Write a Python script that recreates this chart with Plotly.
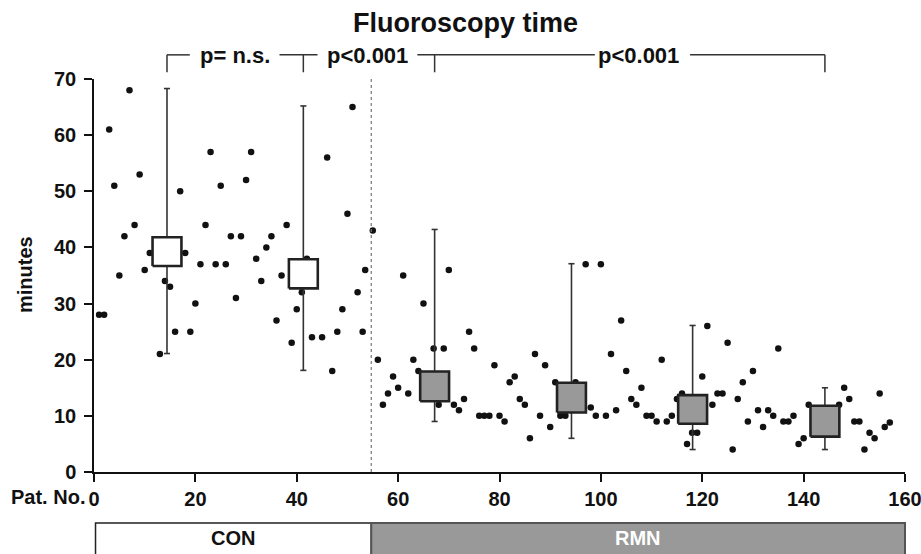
import plotly.graph_objects as go

# ---------------- data ----------------
con_x = [1, 2, 3, 4, 5, 6, 7, 8, 9, 10, 11, 13, 14, 15, 16, 17, 18, 19, 20, 21,
         22, 23, 24, 25, 26, 27, 28, 29, 30, 31, 32, 33, 34, 35, 36, 37, 38, 39,
         40, 41, 42, 43, 45, 46, 47, 48, 49, 50, 51, 52, 53, 53.5]
con_y = [28, 28, 61, 51, 35, 42, 68, 44, 53, 36, 39, 21, 34, 33, 25, 50, 39, 25, 30, 37,
         44, 57, 37, 51, 37, 42, 31, 42, 52, 57, 38, 34, 40, 42, 27, 35, 44, 23,
         29, 32, 38, 24, 24, 56, 18, 25, 29, 46, 65, 32, 25, 36]

rmn_x = [55, 56, 57, 58, 59, 60, 61, 62, 63, 64, 65, 67, 68, 69, 70, 71, 72, 73, 74, 75,
         76, 77, 78, 79, 80, 81, 82, 83, 84, 85, 86, 87, 88, 89, 90, 91, 92, 93, 95, 97,
         98, 99, 100, 101, 102, 103, 104, 105, 106, 107, 108, 109, 110, 111, 112, 113,
         114, 115, 116, 117, 118, 119, 120, 121, 122, 123, 124, 125, 126, 127, 128, 129,
         130, 131, 132, 133, 134, 135, 136, 137, 138, 139, 140, 141, 147, 148, 149, 150,
         151, 152, 153, 154, 155, 156, 157]
rmn_y = [43, 20, 12, 14, 17, 15, 35, 14, 20, 18, 30, 22, 12, 22, 36, 12, 11, 13, 25, 22,
         10, 10, 10, 19, 10, 9, 16, 17, 13, 12, 6, 21, 10, 19, 8, 16, 10, 10, 16, 37,
         11.5, 10, 37, 10, 21, 11, 27, 18, 13, 12, 15, 10, 10, 9, 20, 9,
         10, 13, 14, 5, 7, 7, 17, 26, 12, 14, 14, 23, 4, 13, 16, 9,
         18, 11, 8, 11, 10, 22, 9, 9, 10, 5, 6, 12, 12, 15, 13, 9,
         9, 4, 7, 6, 14, 8, 8.8]

box_x = [14.4, 41.3, 67.2, 94.2, 118.1, 144.2]
box_top = [41.8, 37.9, 17.9, 15.9, 13.7, 11.8]
box_bottom = [36.7, 32.7, 12.6, 10.6, 8.6, 6.3]
whisker_max = [68.3, 65.2, 43.2, 37.1, 26.1, 15.0]
whisker_min = [21.1, 18.1, 9.0, 6.0, 4.0, 4.0]
box_group = ["CON", "CON", "RMN", "RMN", "RMN", "RMN"]

x_ticks = [0, 20, 40, 60, 80, 100, 120, 140, 160]
y_ticks = [0, 10, 20, 30, 40, 50, 60, 70]
group_split = 54.7
p_labels = ["p= n.s.", "p<0.001", "p<0.001"]

# ---------------- styling ----------------
FONT = "Liberation Sans, Arial, Helvetica, sans-serif"
BOX_W = 5.7
CAP = 0.6
fills = {"CON": "white", "RMN": "#999999"}

fig = go.Figure()

# patient dots
fig.add_trace(go.Scatter(x=con_x + rmn_x, y=con_y + rmn_y, mode="markers",
                         marker=dict(color="#111111", size=6.5), hoverinfo="x+y"))

# whiskers
wx, wy = [], []
for x, lo, hi in zip(box_x, whisker_min, whisker_max):
    wx += [x, x, None, x - CAP, x + CAP, None, x - CAP, x + CAP, None]
    wy += [lo, hi, None, hi, hi, None, lo, lo, None]
fig.add_trace(go.Scatter(x=wx, y=wy, mode="lines",
                         line=dict(color="#333333", width=1.6), hoverinfo="skip"))

# boxes
for grp in ["CON", "RMN"]:
    bx, by = [], []
    for x, t, b, g in zip(box_x, box_top, box_bottom, box_group):
        if g != grp:
            continue
        l, r = x - BOX_W / 2, x + BOX_W / 2
        bx += [l, r, r, l, l, None]
        by += [b, b, t, t, b, None]
    fig.add_trace(go.Scatter(x=bx, y=by, mode="lines", fill="toself",
                             fillcolor=fills[grp],
                             line=dict(color="#222222", width=2.6), hoverinfo="skip"))

shapes = []
# dotted divider
shapes.append(dict(type="line", xref="x", yref="y", x0=group_split, x1=group_split,
                   y0=0, y1=70, line=dict(color="#777777", width=1.2, dash="dot")))

# significance brackets (paper coords derived from data positions)
def px(v):
    return v / 160.0

def py(v):
    return v / 70.0

br_y, br_low = 74.3, 71.2
bl = dict(color="#333333", width=1.5)
for x in [box_x[0], box_x[1], box_x[2], box_x[5]]:
    shapes.append(dict(type="line", xref="paper", yref="paper", x0=px(x), x1=px(x),
                       y0=py(br_low), y1=py(br_y), line=bl))
for a, b in [(box_x[0], 18.9), (36.6, 44.1), (63.8, 98.8), (117.6, box_x[5])]:
    shapes.append(dict(type="line", xref="paper", yref="paper", x0=px(a), x1=px(b),
                       y0=py(br_y), y1=py(br_y), line=bl))

# group bars below the axis
shapes.append(dict(type="rect", xref="paper", yref="paper", x0=px(0.3), x1=px(group_split),
                   y0=-0.13, y1=-0.3, fillcolor="white", line=dict(color="#222222", width=1.5)))
shapes.append(dict(type="rect", xref="paper", yref="paper", x0=px(group_split), x1=px(160),
                   y0=-0.13, y1=-0.3, fillcolor="#999999", line=dict(color="#555555", width=2)))

# plot area in page pixels: x 94..905, y 79..472
def pgx(p):
    return (p - 94.0) / 811.0

def pgy(p):
    return (472.0 - p) / 393.0

annotations = []
for txt, xc in zip(p_labels, [27.85, 54.0, 107.5]):
    annotations.append(dict(text=txt, xref="paper", yref="paper", x=px(xc), y=py(74.1),
                            showarrow=False, xanchor="center", yanchor="middle",
                            font=dict(family=FONT, size=22, color="#111111", weight="bold")))
annotations.append(dict(text="Fluoroscopy time", xref="paper", yref="paper",
                        x=pgx(465), y=pgy(23), showarrow=False,
                        xanchor="center", yanchor="middle",
                        font=dict(family=FONT, size=27, color="#111111", weight="bold")))
annotations.append(dict(text="minutes", xref="paper", yref="paper", textangle=-90,
                        x=pgx(25), y=pgy(275), showarrow=False,
                        xanchor="center", yanchor="middle",
                        font=dict(family=FONT, size=20, color="#111111", weight="bold")))
annotations.append(dict(text="Pat. No.", xref="paper", yref="paper",
                        x=pgx(87), y=pgy(497), showarrow=False,
                        xanchor="right", yanchor="middle",
                        font=dict(family=FONT, size=20, color="#111111", weight="bold")))
annotations.append(dict(text="CON", xref="paper", yref="paper", x=px(group_split / 2),
                        y=pgy(538), showarrow=False, xanchor="center", yanchor="middle",
                        font=dict(family=FONT, size=20, color="#111111", weight="bold")))
annotations.append(dict(text="RMN", xref="paper", yref="paper", x=px((group_split + 160) / 2),
                        y=pgy(538), showarrow=False, xanchor="center", yanchor="middle",
                        font=dict(family=FONT, size=20, color="white", weight="bold")))

fig.update_layout(
    width=921, height=554,
    margin=dict(l=94, r=16, t=79, b=82, autoexpand=False),
    paper_bgcolor="white", plot_bgcolor="white",
    showlegend=False,
    shapes=shapes, annotations=annotations,
    font=dict(family=FONT, color="#111111"),
)
fig.update_xaxes(range=[0, 160], tickvals=x_ticks, ticktext=[str(v) for v in x_ticks],
                 showgrid=False, zeroline=False, showline=True, linecolor="#111111",
                 linewidth=1.5, ticks="outside", ticklen=8, tickwidth=1.5, tickcolor="#111111",
                 ticklabeloverflow="allow", automargin=False,
                 tickfont=dict(family=FONT, size=20, color="#111111", weight="bold"))
fig.update_yaxes(range=[0, 70], tickvals=y_ticks, showgrid=False, zeroline=False,
                 showline=True, linecolor="#111111", linewidth=1.5, ticks="outside",
                 ticklen=8, tickwidth=1.5, tickcolor="#111111", ticklabelstandoff=4,
                 automargin=False,
                 tickfont=dict(family=FONT, size=20, color="#111111", weight="bold"))

fig.write_html("out.html", config={"displayModeBar": False},
               post_script="document.body.style.margin='0px';"
                           "document.body.style.overflow='hidden';")
